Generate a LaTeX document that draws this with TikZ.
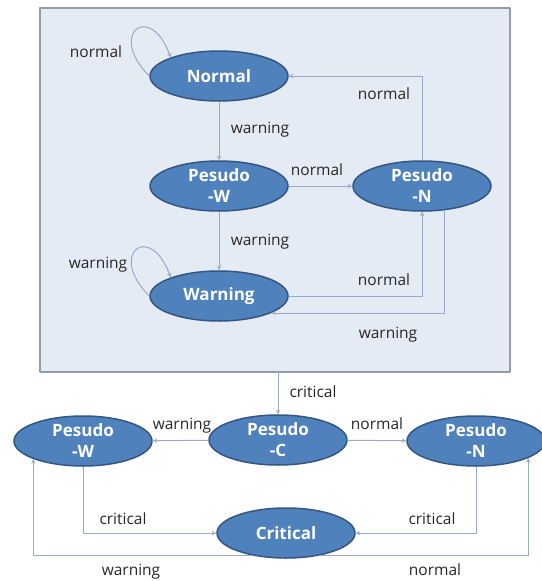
\documentclass[tikz,border=0pt]{standalone}
\usepackage{fontspec}
\setmainfont{Open Sans}
\usetikzlibrary{shapes.geometric}
\definecolor{stateblue}{RGB}{79,129,189}
\definecolor{stateline}{RGB}{52,86,128}
\definecolor{panel}{RGB}{229,235,244}
\definecolor{panelline}{RGB}{150,156,164}
\definecolor{arrowc}{RGB}{150,172,198}
\tikzset{
	state/.style={ellipse, draw=stateline, fill=stateblue, line width=1.5pt, minimum width=138pt, minimum height=50pt, inner sep=0pt, text=white, align=center, font=\bfseries\fontsize{17}{21}\selectfont},
	lbl/.style={font=\fontsize{15.5}{18}\selectfont, text=black!85, inner sep=0pt, text height=1.1ex, text depth=0.3ex, yshift=-3pt},
	trans/.style={draw=arrowc, line width=1pt, ->},
}
\begin{document}
\begin{tikzpicture}[x=1pt, y=1pt, >=stealth, line join=round]
	\useasboundingbox (0,0) rectangle (541,-581);
	% panel of the upper states
	\draw[draw=panelline, fill=panel, line width=1.5pt] (40,-8) rectangle (510,-372);
	\coordinate (boxout) at (278,-372);
	% states
	\node[state] (norm) at (219,-76) {Normal};
	\node[state] (pw) at (219,-186) {Pesudo\\-W};
	\node[state] (pn) at (422,-186) {Pesudo\\-N};
	\node[state] (warn) at (219,-296) {Warning};
	\node[state] (pw2) at (83,-441) {Pesudo\\-W};
	\node[state] (pc) at (278,-440) {Pesudo\\-C};
	\node[state] (pn2) at (476,-441) {Pesudo\\-N};
	\node[state] (crit) at (286,-533) {Critical};
	% transitions
	\draw[trans] (norm.west) .. controls +(135:60) and +(110:60) .. (norm.159);
	\draw[trans] (norm.south) -- (pw.north);
	\draw[trans] (pw) -- (pn);
	\draw[trans] (pn.north) |- (norm.east);
	\draw[trans] (pw.south) -- (warn.north);
	\draw[trans] (warn.west) .. controls +(135:60) and +(110:60) .. (warn.159);
	\draw[trans] (warn.east) -| (pn.south);
	\draw[trans] (pn.313) |- (warn.342);
	\draw[trans] (boxout) -- (pc.north);
	\draw[trans] (pc) -- (pw2);
	\draw[trans] (pc) -- (pn2);
	\draw[trans] (pw2.south) |- (crit.west);
	\draw[trans] (pn2.south) |- (crit.east);
	\draw[trans] (crit.215) -| (pw2.200);
	\draw[trans] (crit.325) -| (pn2.342);
	% labels
	\node[lbl] (lnormloop) at (96,-52) {normal};
	\node[lbl] (lw1) at (260,-128) {warning};
	\node[lbl] (ln1) at (317,-170) {normal};
	\node[lbl] (ln2) at (384,-94) {normal};
	\node[lbl] (lw2) at (260,-240) {warning};
	\node[lbl] (lwarnloop) at (98,-263) {warning};
	\node[lbl] (ln3) at (384,-280) {normal};
	\node[lbl] (lw3) at (388,-333) {warning};
	\node[lbl] (lc1) at (313,-392) {critical};
	\node[lbl] (lw4) at (182,-424) {warning};
	\node[lbl] (ln4) at (377,-424) {normal};
	\node[lbl] (lc2) at (123,-519) {critical};
	\node[lbl] (lc3) at (432,-519) {critical};
	\node[lbl] (lw5) at (131,-570) {warning};
	\node[lbl] (ln5) at (435,-570) {normal};
\end{tikzpicture}
\end{document}
